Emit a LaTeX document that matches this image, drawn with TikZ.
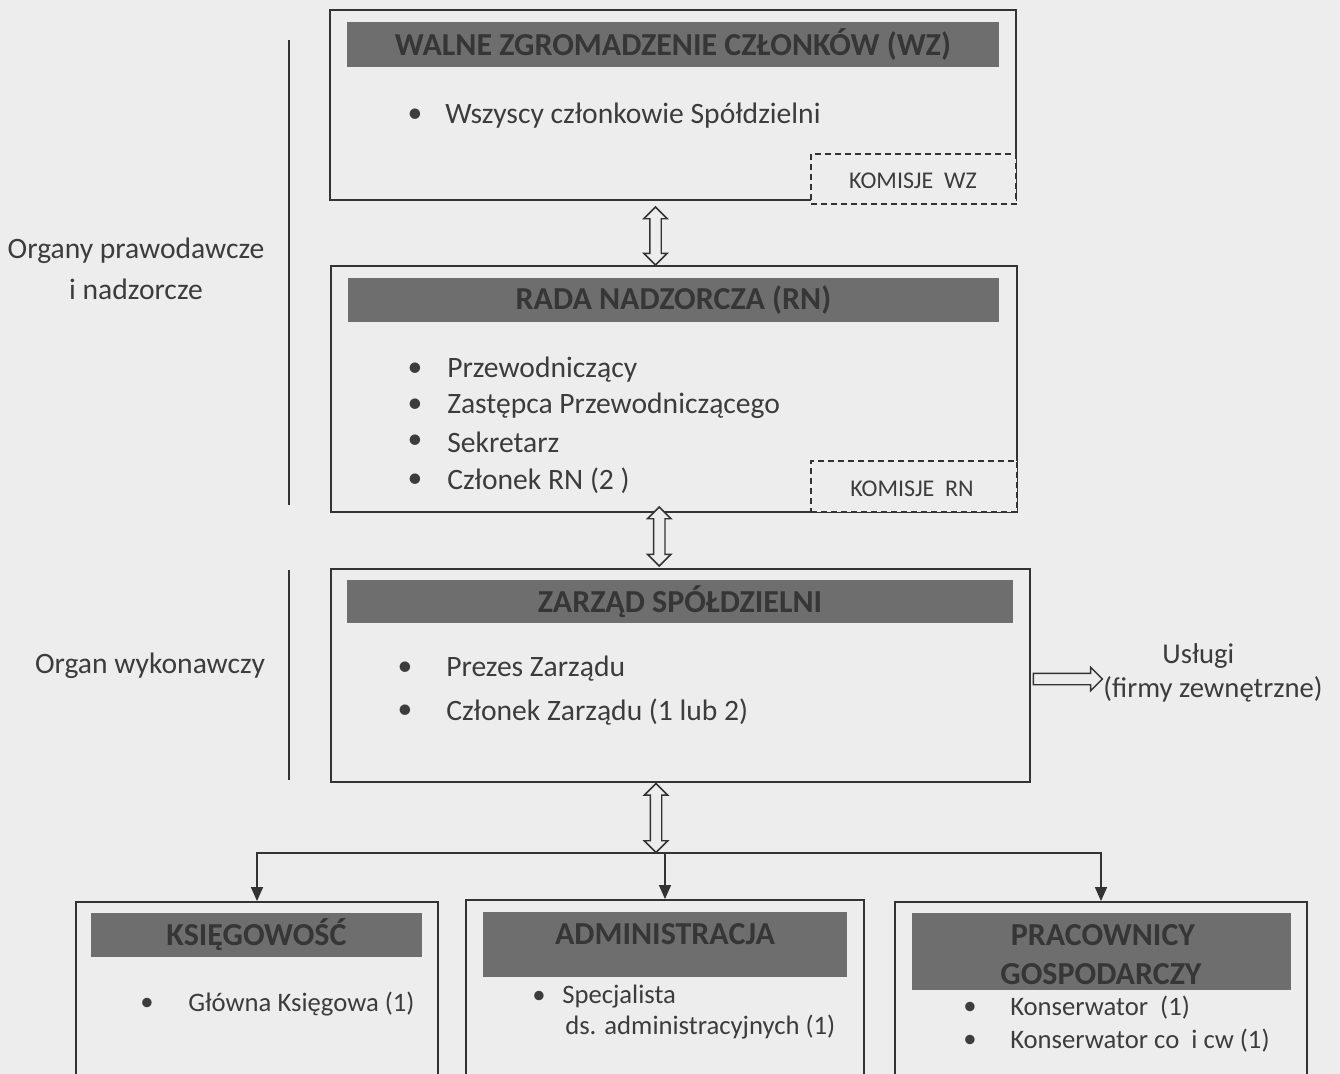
\documentclass[tikz,border=0pt]{standalone}
\usepackage{fontspec}
\setmainfont{Carlito}
\usetikzlibrary{shapes.arrows,calc,arrows.meta}
\newdimen\px \px=0.75pt
\definecolor{bg}{HTML}{EDEDED}
\definecolor{bar}{HTML}{6E6E6E}
\definecolor{bartext}{HTML}{363636}
\definecolor{ink}{HTML}{333333}
\definecolor{txt}{HTML}{3C3C3C}
\tikzset{
  box/.style={draw=ink, line width=1.4pt, fill=bg, inner sep=0pt},
  hdrbar/.style={fill=bar, inner sep=0pt, text=bartext, font=\fontsize{24}{29}\selectfont\bfseries},
  dashbox/.style={draw=ink, line width=1.2pt, dash pattern=on 4.5pt off 3pt, fill=bg, inner sep=0pt},
  item/.style={anchor=west, inner sep=0pt, text=txt, font=\fontsize{22.2}{26}\selectfont},
  sitem/.style={anchor=west, inner sep=0pt, text=txt, font=\fontsize{20}{24}\selectfont},
  bdot/.style={inner sep=0pt, text=txt, font=\fontsize{22.2}{26}\selectfont},
  sbdot/.style={inner sep=0pt, text=txt, font=\fontsize{20}{24}\selectfont},
  komtext/.style={inner sep=0pt, text=txt, font=\fontsize{18}{20}\selectfont},
  side/.style={inner sep=0pt, text=txt, align=center, font=\fontsize{22.2}{31}\selectfont},
  dblarrow/.style={double arrow, draw=ink, fill=bg, line width=1.1pt, inner sep=3.75pt,
     double arrow head extend=4.5pt, rotate=90, minimum height=#1},
  sglarrow/.style={single arrow, draw=ink, fill=bg, line width=1.1pt, inner sep=3.75pt,
     single arrow head extend=4.5pt, minimum height=#1},
  ln/.style={draw=ink, line width=1.2pt},
  tree/.style={draw=ink, line width=1.2pt, -{Triangle[width=9pt,length=10.5pt]}},
}
\newcommand\blt[6]{% name, style prefix, bulletx, textx, y, text
  \node[#2bdot] (#1b) at (#3,#5) {\textbullet};
  \node[#2item] (#1) at (#4,#5) {#6};}
\begin{document}
\begin{tikzpicture}[x=0.75pt,y=-0.75pt]
\useasboundingbox (0,0) rectangle (1340,1074);
\clip (0,0) rectangle (1340,1074);
\fill[bg] (0,0) rectangle (1340,1074);

% left side
\draw[ln] (289,40) -- (289,505);
\draw[ln] (289,570) -- (289,780);
\node[side] (lab1) at (136,269) {Organy prawodawcze\\i nadzorcze};
\node[side] (lab2) at (150,666) {Organ wykonawczy};

% WZ
\node[box, minimum width=686\px, minimum height=190\px] (wz) at (673,105) {};
\node[hdrbar, minimum width=652\px, minimum height=45\px] (h1) at (673,44.5) {WALNE ZGROMADZENIE CZŁONKÓW (WZ)};
\blt{w1}{}{415}{445}{116}{Wszyscy członkowie Spółdzielni}
\node[dashbox, minimum width=205\px, minimum height=50\px] (kwz) at (913.5,179) {};
\node[komtext] (kwzt) at (913,181) {KOMISJE\ \ WZ};

% RN
\node[box, minimum width=686\px, minimum height=246\px] (rn) at (674,389) {};
\node[hdrbar, minimum width=651\px, minimum height=44\px] (h2) at (673.5,300) {RADA NADZORCZA (RN)};
\blt{r1}{}{415}{447}{370}{Przewodniczący}
\blt{r2}{}{415}{447}{406}{Zastępca Przewodniczącego}
\blt{r3}{}{415}{447}{442}{Sekretarz}
\blt{r4}{}{415}{447}{481}{Członek RN (2 )}
\node[dashbox, minimum width=206\px, minimum height=51\px] (krn) at (914,486.5) {};
\node[komtext] (krnt) at (912,489) {KOMISJE\ \ RN};

% Zarzad
\node[box, minimum width=699\px, minimum height=213\px] (zs) at (680.5,675.5) {};
\node[hdrbar, minimum width=666\px, minimum height=43\px] (h3) at (680,601.5) {ZARZĄD SPÓŁDZIELNI};
\blt{z1}{}{405}{446}{669}{Prezes Zarządu}
\blt{z2}{}{405}{446}{712}{Członek Zarządu (1 lub 2)}

% bottom boxes
\node[box, minimum width=362\px, minimum height=198\px] (k) at (257,1001) {};
\node[hdrbar, minimum width=331\px, minimum height=44\px] (h4) at (256.5,935) {KSIĘGOWOŚĆ};
\blt{k1}{s}{147}{188}{1004}{Główna Księgowa (1)}

\node[box, minimum width=398\px, minimum height=200\px] (adm) at (665,1000) {};
\node[hdrbar, minimum width=364\px, minimum height=65\px] (h5) at (665,944.5) {};
\node[hdrbar, fill=none] (h5t) at (665,934) {ADMINISTRACJA};
\blt{a1}{s}{539}{562}{997}{Specjalista}
\node[sitem] (a2) at (565,1027) {ds. administracyjnych (1)};

\node[box, minimum width=412\px, minimum height=198\px] (pr) at (1101,1001) {};
\node[hdrbar, minimum width=379\px, minimum height=77\px] (h6) at (1101.5,951.5) {};
\node[hdrbar, fill=none] (h6a) at (1103,935) {PRACOWNICY};
\node[hdrbar, fill=none] (h6b) at (1101,974) {GOSPODARCZY};
\blt{p1}{s}{970}{1010}{1008}{Konserwator\ \ (1)}
\blt{p2}{s}{970}{1010}{1041}{Konserwator co\ \ i cw (1)}

% double arrows
\coordinate (bus) at (656,853);
\node[dblarrow=58\px] (a1x) at ($(wz.south)!0.5!(rn.north)+(-18,3)$) {};
\node[dblarrow=59\px] (a2x) at ($(rn.south)!0.5!(zs.north)+(-18,-4)$) {};
\node[dblarrow=69\px] (a3x) at ($(zs.south -| bus)!0.5!(bus)$) {};

% tree
\draw[tree] (bus) -| (k.north);
\draw[tree] (bus) -| (adm.north);
\draw[tree] (bus) -| (pr.north);

% uslugi
\node[side, align=center, font=\fontsize{21.5}{25.5}\selectfont] (usl) at (1213,673) {Usługi\kern22pt\\(firmy zewnętrzne)};
\node[sglarrow=69\px] (ua) at ($(zs.east)+(34,3.5)$) {};
\end{tikzpicture}
\end{document}
